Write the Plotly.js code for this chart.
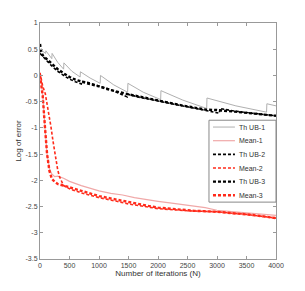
<!DOCTYPE html>
<html>
<head>
<meta charset="utf-8">
<script src="https://cdn.plot.ly/plotly-3.0.1.min.js"></script>
<style>html,body{margin:0;padding:0;background:#fff;}#chart{width:305px;height:291px;}</style>
</head>
<body>
<div id="chart"></div>
<script>
// Th UB-1 (sawtooth)
var ub1X = [0, 95, 100, 200, 205, 300, 400, 405, 540, 680, 685, 850, 1020, 1025, 1250, 1485, 1490, 1750, 2045, 2050, 2420, 2825, 2830, 3320, 3840, 3845, 4000];
var ub1Y = [0.5, 0.42, 0.47, 0.32, 0.42, 0.25, 0.12, 0.24, 0.08, -0.03, 0.07, -0.05, -0.15, 0.0, -0.18, -0.32, -0.15, -0.32, -0.46, -0.29, -0.47, -0.63, -0.43, -0.58, -0.7, -0.54, -0.58];
// Mean-1
var m1X = [0, 45, 85, 120, 160, 200, 250, 300, 400, 500, 700, 1000, 1200, 1400, 1600, 1800, 2000, 2200, 2500, 2800, 3000, 3300, 3600, 4000];
var m1Y = [0.05, -0.35, -1.0, -1.5, -1.78, -1.88, -1.93, -1.92, -1.96, -2.02, -2.1, -2.2, -2.25, -2.28, -2.33, -2.37, -2.4, -2.43, -2.47, -2.52, -2.57, -2.6, -2.63, -2.67];
// Th UB-2
var ub2X = [0, 50, 100, 200, 300, 400, 500, 600, 700, 710, 800, 1000, 1200, 1480, 1490, 1700, 2000, 2300, 2600, 3040, 3050, 3300, 3600, 4000];
var ub2Y = [0.42, 0.35, 0.3, 0.18, 0.08, 0.0, -0.07, -0.12, -0.16, -0.11, -0.13, -0.2, -0.27, -0.41, -0.36, -0.42, -0.49, -0.55, -0.62, -0.72, -0.63, -0.68, -0.72, -0.77];
// Mean-2
var m2X = [0, 45, 90, 140, 186, 220, 254, 300, 330, 370, 400, 450, 500, 700, 1000, 1300, 1500, 2000, 2500, 3000, 3500, 4000];
var m2Y = [0.05, -0.2, -0.35, -0.65, -0.98, -1.25, -1.49, -1.8, -1.93, -2.05, -2.1, -2.13, -2.16, -2.24, -2.33, -2.4, -2.45, -2.54, -2.58, -2.6, -2.65, -2.72];
// Th UB-3
var ub3X = [0, 20, 50, 100, 200, 300, 400, 500, 600, 700, 800, 1000, 1200, 1500, 1800, 2000, 2400, 2800, 3000, 3300, 3600, 4000];
var ub3Y = [0.6, 0.45, 0.38, 0.33, 0.22, 0.12, 0.04, -0.03, -0.08, -0.12, -0.15, -0.21, -0.28, -0.36, -0.43, -0.48, -0.57, -0.65, -0.66, -0.69, -0.73, -0.77];
// Mean-3
var m3X = [0, 45, 85, 120, 160, 200, 250, 300, 400, 500, 700, 1000, 1300, 1500, 1800, 2000, 2300, 2600, 3000, 3300, 3600, 4000];
var m3Y = [0.0, -0.38, -1.0, -1.5, -1.82, -1.97, -2.03, -2.07, -2.1, -2.13, -2.2, -2.3, -2.37, -2.42, -2.48, -2.52, -2.55, -2.58, -2.6, -2.63, -2.66, -2.72];

var seriesNames = ['Th UB-1', 'Mean-1', 'Th UB-2', 'Mean-2', 'Th UB-3', 'Mean-3'];
var xTicks = [0, 500, 1000, 1500, 2000, 2500, 3000, 3500, 4000];
var yTicks = [1, 0.5, 0, -0.5, -1, -1.5, -2, -2.5, -3, -3.5];
var yTickText = ['1', '0.5', '0', '-0.5', '-1', '-1.5', '-2', '-2.5', '-3', '-3.5'];

var FONT = 'Liberation Sans, Arial, sans-serif';
var lines = [
  {color: '#b0b0b0', width: 1},
  {color: '#f0a8a8', width: 1.2},
  {color: '#000000', width: 1.6, dash: '3px,2px'},
  {color: '#ff2a1a', width: 1.6, dash: '3px,2px'},
  {color: '#000000', width: 2.4, dash: '3px,2px'},
  {color: '#ff2a1a', width: 2.4, dash: '3px,2px'}
];
var xs = [ub1X, m1X, ub2X, m2X, ub3X, m3X];
var ys = [ub1Y, m1Y, ub2Y, m2Y, ub3Y, m3Y];

var traces = seriesNames.map(function (n, i) {
  return {x: xs[i], y: ys[i], name: n, mode: 'lines', line: lines[i], showlegend: false};
});

// manual legend (paper coordinates)
var legTop = 0.588, legBot = 0.241, legLeft = 0.716, legRight = 1.0;
var shapes = [{type: 'rect', xref: 'paper', yref: 'paper', x0: legLeft, x1: legRight, y0: legBot, y1: legTop,
  line: {color: '#888', width: 1}, fillcolor: '#fff', layer: 'above'}];
var annotations = [];
var step = (legTop - legBot) / 6;
seriesNames.forEach(function (n, i) {
  var yy = legTop - step * (i + 0.5);
  shapes.push({type: 'line', xref: 'paper', yref: 'paper', x0: 0.733, x1: 0.826, y0: yy, y1: yy,
    line: {color: lines[i].color, width: lines[i].width, dash: lines[i].dash || 'solid'}, layer: 'above'});
  annotations.push({xref: 'paper', yref: 'paper', x: 0.836, y: yy, xanchor: 'left', yanchor: 'middle',
    text: n, showarrow: false, font: {family: FONT, size: 7, color: '#333'}});
});

var axisCommon = {
  showgrid: false, zeroline: false, showline: true, mirror: 'ticks',
  linecolor: '#999', linewidth: 1, ticks: 'inside', ticklen: 3, tickcolor: '#999',
  tickfont: {family: FONT, size: 7, color: '#444'}
};

var layout = {
  width: 305, height: 291,
  margin: {l: 40, r: 29, t: 23, b: 32},
  paper_bgcolor: '#fff', plot_bgcolor: '#fff',
  showlegend: false,
  shapes: shapes,
  annotations: annotations,
  xaxis: Object.assign({}, axisCommon, {
    range: [0, 4000], tickvals: xTicks,
    title: {text: 'Number of iterations (N)', font: {family: FONT, size: 8, color: '#333'}, standoff: 1}
  }),
  yaxis: Object.assign({}, axisCommon, {
    range: [-3.5, 1], tickvals: yTicks, ticktext: yTickText,
    title: {text: 'Log of error', font: {family: FONT, size: 8, color: '#333'}, standoff: 2}
  })
};

Plotly.newPlot('chart', traces, layout, {displayModeBar: false, staticPlot: true});
</script>
</body>
</html>
